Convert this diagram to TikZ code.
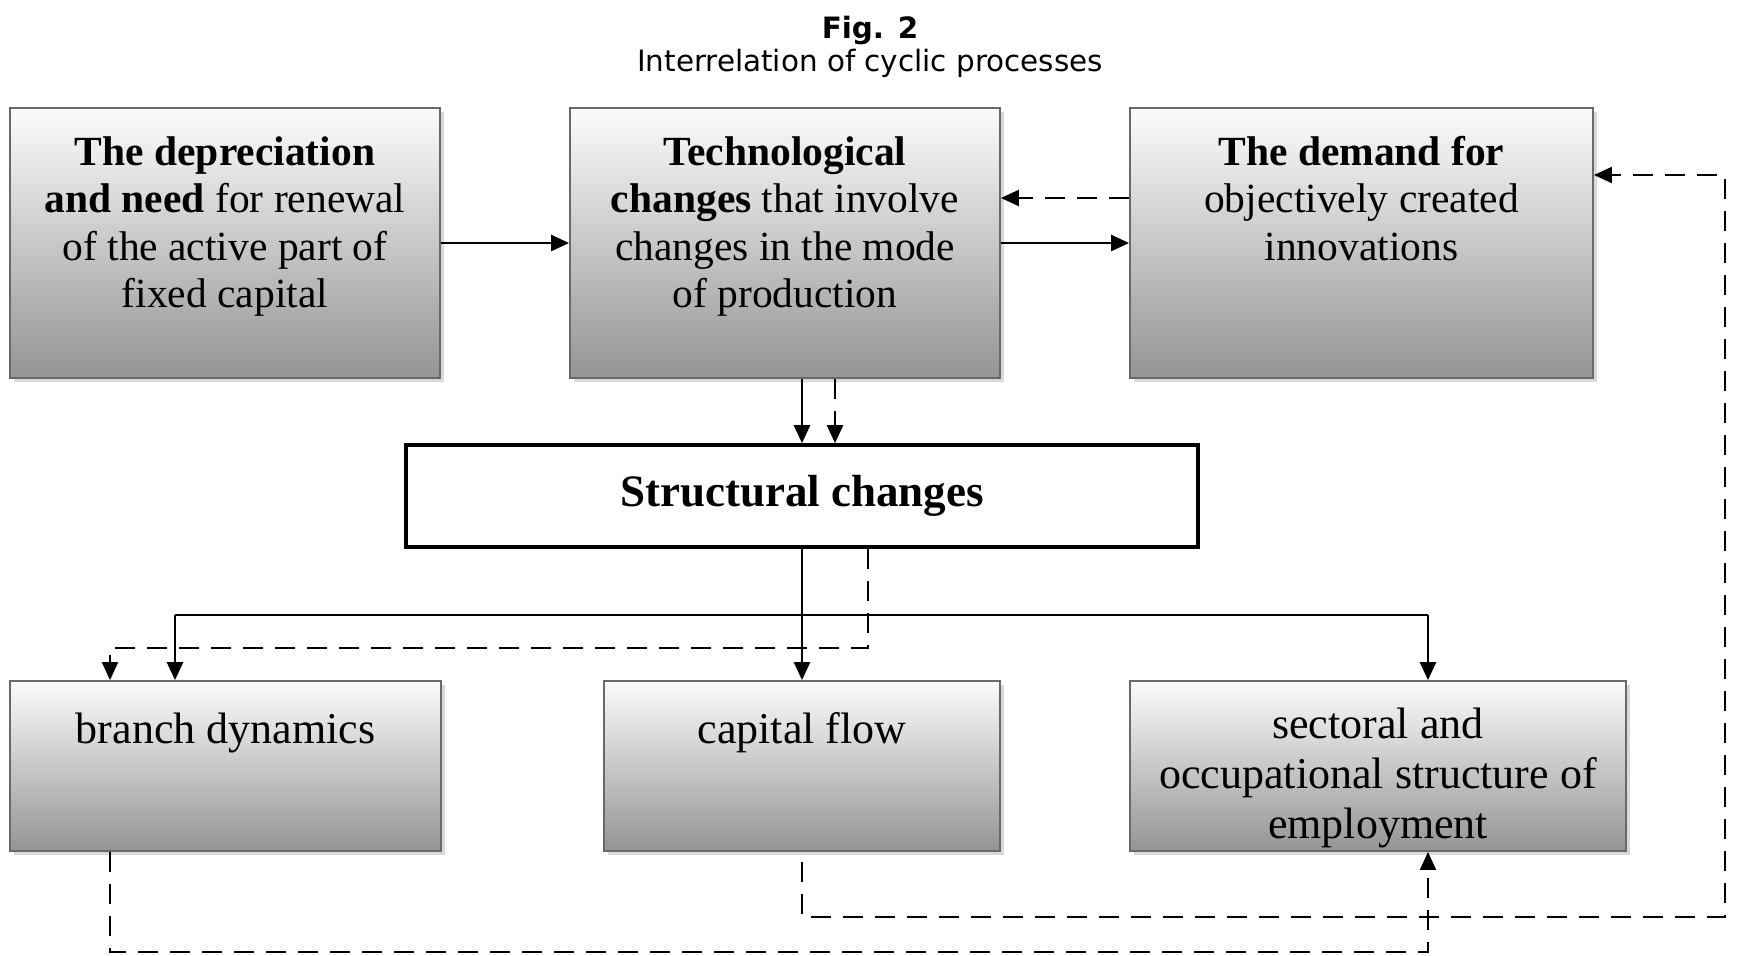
\documentclass[tikz,border=0pt]{standalone}
\usepackage{fontspec}
\setmainfont{Liberation Serif}
\newfontfamily\capfont{DejaVu Sans}
\usetikzlibrary{arrows.meta,shadows}
\definecolor{boxtop}{RGB}{252,252,252}
\definecolor{boxbot}{RGB}{148,148,148}
\definecolor{boxedge}{RGB}{105,105,105}
\newcommand{\inbox}[4]{\parbox[c][#1][t]{#2}{\centering\rule{0pt}{#3}#4}}

\begin{document}
\begin{tikzpicture}[x=0.5pt,y=-0.5pt,
    grbox/.style={draw=boxedge,line width=0.9pt,top color=boxtop,bottom color=boxbot,
      drop shadow={shadow xshift=1.8pt,shadow yshift=-1.8pt,opacity=0.3},inner sep=0pt},
    upper/.style={grbox,minimum height=135pt,font=\fontsize{20.75}{23.8}\selectfont},
    lower/.style={grbox,minimum height=85pt,font=\fontsize{22}{25}\selectfont},
    mainbox/.style={draw,line width=1.8pt,fill=white,minimum width=396pt,minimum height=51pt,
      font=\bfseries\fontsize{22.5}{26}\selectfont},
    flow/.style={line width=1.3pt,-{Triangle[length=9pt,width=8pt]}},
    backflow/.style={line width=1pt,dash pattern=on 10pt off 6pt,-{Triangle[length=9pt,width=8pt]}},
    bus/.style={line width=1.3pt}]
  \useasboundingbox (0,0) rectangle (1737,955);

  % caption
  \node[font=\capfont\bfseries\fontsize{14.7}{17}\selectfont] (fig) at (870,30) {Fig. 2};
  \node[font=\capfont\fontsize{14.7}{17}\selectfont] (caption) at (870,63) {Interrelation of cyclic processes};

  % upper row
  \node[upper,minimum width=215pt] (depr) at (225,243)
    {\inbox{135pt}{210pt}{28.5pt}{\textbf{The depreciation}\\\textbf{and need} for renewal\\of the active part of\\fixed capital}};
  \node[upper,minimum width=215pt] (techch) at (785,243)
    {\inbox{135pt}{210pt}{28.5pt}{\textbf{Technological}\\\textbf{changes} that involve\\changes in the mode\\of production}};
  \node[upper,minimum width=231.5pt] (demand) at (1361.5,243)
    {\inbox{135pt}{226pt}{28.5pt}{\textbf{The demand for}\\objectively created\\innovations}};

  \node[mainbox] (struct) at (802,496) {Structural changes};

  % lower row
  \node[lower,minimum width=215.5pt] (branch) at (225.5,766)
    {\inbox{85pt}{210pt}{31pt}{branch dynamics}};
  \node[lower,minimum width=198pt] (capflow) at (802,766)
    {\inbox{85pt}{193pt}{31pt}{capital flow}};
  \node[lower,minimum width=248pt] (sectoral) at (1378,766)
    {\inbox{85pt}{243pt}{28.5pt}{sectoral and\\occupational structure of\\employment}};

  \coordinate (busL) at (175,615);
  \coordinate (busR) at (1428,615);
  \coordinate (dashL) at (110,648);
  \coordinate (loopA) at (110,952);
  \coordinate (loopB) at (1725,917);

  \draw[flow] (depr) -- (techch);
  \draw[flow] (techch) -- (demand);
  \draw[backflow] ([yshift=22.5pt]demand.west) -- ([yshift=22.5pt]techch.east);
  \draw[flow] (struct.north |- techch.south) -- (struct.north);
  \draw[backflow] ([xshift=16.5pt]struct.north |- techch.south) -- ([xshift=16.5pt]struct.north);

  \draw[flow] (struct) -- (capflow);
  \draw[bus] (busL) -- (busR);
  \draw[flow] (busL) -- (busL |- branch.north);
  \draw[flow] (busR) -- (busR |- sectoral.north);
  \draw[backflow] ([xshift=33pt]struct.south) |- (dashL) -- (dashL |- branch.north);

  \draw[backflow] (loopA |- branch.south) -- (loopA) -| (busR |- sectoral.south);
  \draw[backflow,shorten <=5pt] (capflow.south) |- (loopB) |- ([yshift=34pt]demand.east);
\end{tikzpicture}
\end{document}
